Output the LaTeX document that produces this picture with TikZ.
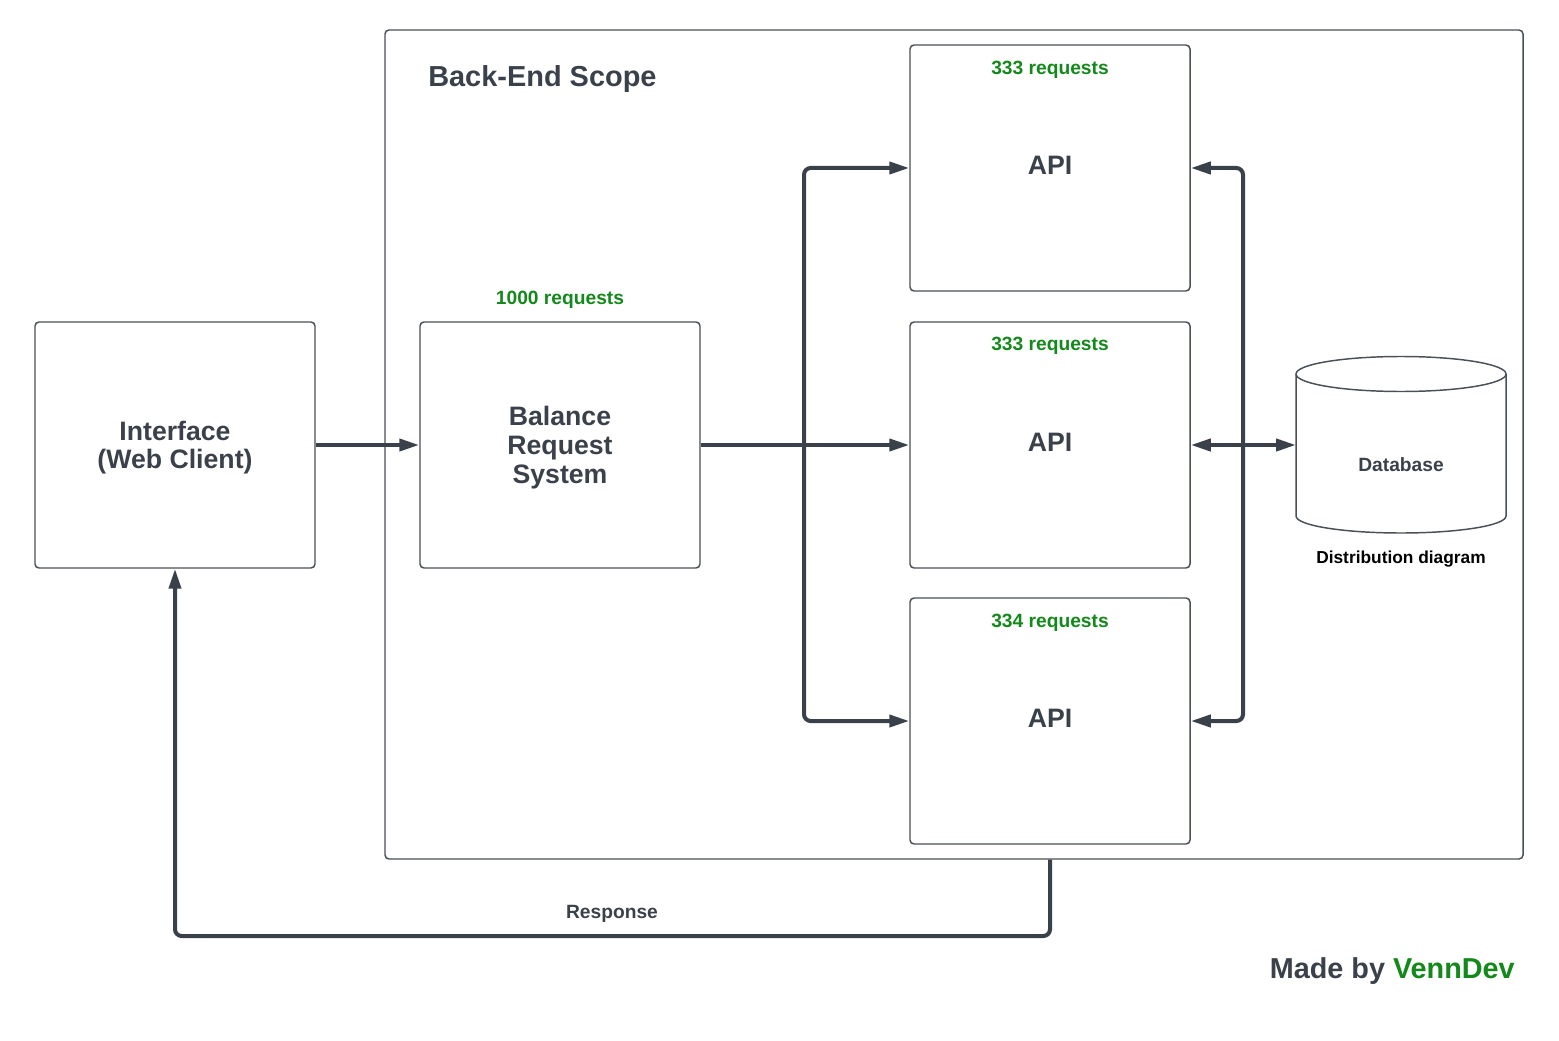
\documentclass[tikz,border=0pt]{standalone}
\usepackage{fontspec}
\setmainfont{Liberation Sans}
\usetikzlibrary{arrows.meta}
\definecolor{ink}{HTML}{3A414A}
\definecolor{grn}{HTML}{12891A}
\definecolor{edge}{HTML}{4A5058}
\begin{document}
\begin{tikzpicture}[x=0.75pt,y=-0.75pt,
  box/.style={draw=edge, line width=1.1pt, rounded corners=3pt, minimum width=210pt, minimum height=184.5pt, inner sep=0pt, align=center, text=ink, font=\bfseries\fontsize{20}{21.75}\selectfont},
  conn/.style={draw=ink, line width=3pt, rounded corners=5pt, -{Triangle[length=15pt,width=9pt]}},
  tip/.style={{Triangle[length=15pt,width=9pt]}-{Triangle[length=15pt,width=9pt]}},
  count/.style={text=grn, font=\bfseries\fontsize{14.4}{16}\selectfont, inner sep=0pt},
  small/.style={font=\bfseries\fontsize{14.4}{16}\selectfont, inner sep=0pt}]
\useasboundingbox (0,0) rectangle (1559,1041);
% scope frame
\node[draw=edge, line width=1.1pt, rounded corners=3pt, minimum width=853.5pt, minimum height=621.75pt, inner sep=0pt] (scope) at (954,444.5) {};
\node[anchor=west, text=ink, font=\bfseries\fontsize{21.7}{24}\selectfont, inner sep=0pt] (scopelbl) at (428,79) {Back-End Scope};
% boxes
\node[box, text depth=0pt, font=\bfseries\fontsize{20}{21}\selectfont] (iface) at (175,445) {Interface\\(Web Client)};
\node[box, text depth=0pt] (bal) at (560,445) {Balance\\Request\\System};
\node[box, text depth=4.5pt] (api1) at (1050,168) {API};
\node[box, text depth=4.5pt] (api2) at (1050,445) {API};
\node[box, text depth=4.5pt] (api3) at (1050,721) {API};
\node[count] (c0) at (560,300) {1000 requests};
\node[count] (c1) at (1050,70) {333 requests};
\node[count] (c2) at (1050,346) {333 requests};
\node[count] (c3) at (1050,623) {334 requests};
% database
\draw[draw=edge, line width=1.1pt, fill=white] (1296,374) -- (1296,516) arc[start angle=180, end angle=0, x radius=105, y radius=17] -- (1506,374);
\draw[draw=edge, line width=1.1pt] (1401,374) ellipse[x radius=105, y radius=17.5];
\node[small, text=ink] (db) at (1401,465) {Database};
\coordinate (dbw) at (1296,445);
\node[inner sep=0pt, font=\bfseries\fontsize{13}{15}\selectfont, text=black] (dist) at (1401,559) {Distribution diagram};
% connectors
\coordinate (split) at (804,445);
\coordinate (rj) at (1243,445);
\draw[conn] (iface.east) -- (bal.west);
\draw[conn] (bal.east) -- (api2.west);
\draw[conn] (split) |- (api1.west);
\draw[conn] (split) |- (api3.west);
\draw[conn] (rj) |- (api1.east);
\draw[conn] (rj) |- (api3.east);
\draw[conn, tip] (api2.east) -- (dbw);
\draw[conn] (api3.south |- scope.south) -- (1050,936) -| (iface.south);
\node[small, text=ink] (resp) at (612,914) {Response};
\node[anchor=east, inner sep=0pt, font=\bfseries\fontsize{21.6}{24}\selectfont, text=ink] (made) at (1515,971) {Made by \textcolor{grn}{VennDev}};
\end{tikzpicture}
\end{document}
